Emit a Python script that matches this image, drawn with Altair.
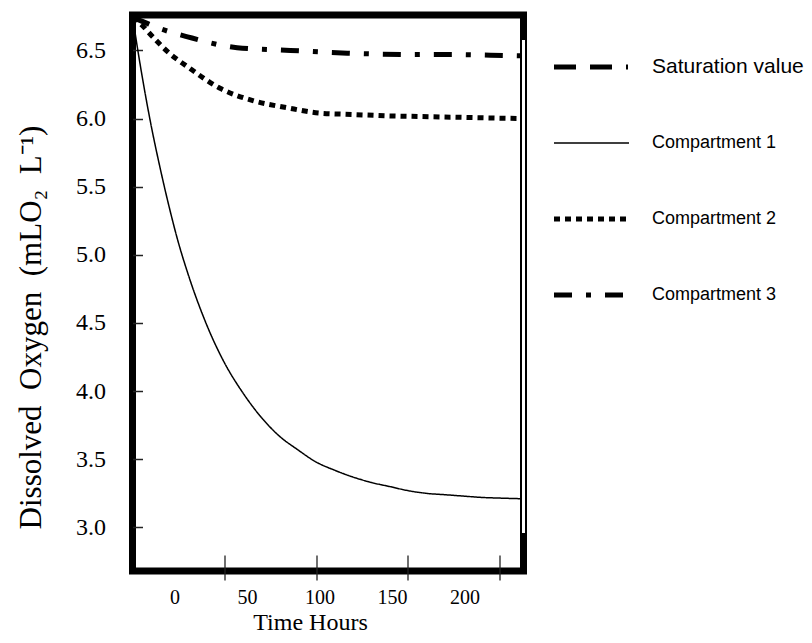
import altair as alt
import pandas as pd

# ---------------- data ----------------
series_names = ["Saturation value", "Compartment 1", "Compartment 2", "Compartment 3"]

sat_hours = [0, 213]
sat_values = [6.76, 6.76]

c1_hours = [0, 5, 10, 15, 20, 25, 30, 40, 50, 60, 70, 80, 90, 100, 110, 120,
            130, 140, 150, 160, 170, 180, 190, 200, 213]
c1_values = [6.75, 6.33, 5.96, 5.64, 5.35, 5.09, 4.87, 4.50, 4.21, 3.99, 3.81,
             3.67, 3.57, 3.48, 3.42, 3.37, 3.33, 3.30, 3.27, 3.25, 3.24, 3.23,
             3.22, 3.215, 3.21]

c2_hours = [0, 4, 11, 20, 30, 48, 66, 84, 102, 120, 139, 157, 175, 193, 213]
c2_values = [6.74, 6.70, 6.60, 6.48, 6.38, 6.22, 6.13, 6.08, 6.04, 6.03, 6.02,
             6.015, 6.01, 6.005, 6.00]

c3_hours = [0, 4, 15, 30, 57, 86, 117, 150, 175, 195, 213]
c3_values = [6.74, 6.72, 6.66, 6.60, 6.52, 6.50, 6.48, 6.47, 6.47, 6.465, 6.46]

y_ticks = [3.0, 3.5, 4.0, 4.5, 5.0, 5.5, 6.0, 6.5]
x_ticks = [50, 100, 150, 200]
x_labels = [0, 50, 100, 150, 200]

rows = []
for name, hs, vs in [(series_names[0], sat_hours, sat_values),
                     (series_names[1], c1_hours, c1_values),
                     (series_names[2], c2_hours, c2_values),
                     (series_names[3], c3_hours, c3_values)]:
    for h, v in zip(hs, vs):
        rows.append({"series": name, "hours": h, "oxygen": v})
df = pd.DataFrame(rows)

# ---------------- styles ----------------
W, H = 391, 556
Y_DOMAIN = [2.68, 6.76]
SERIF = "Liberation Serif"
SANS = "Liberation Sans"

dash_scale = alt.Scale(domain=series_names,
                       range=[[22, 14, 22, 14, 2, 14], [1, 0], [6, 5], [18, 14, 5, 14]])
width_cond = alt.condition(alt.datum.series == "Compartment 1", alt.value(1.5), alt.value(5))

lines = alt.Chart(df).mark_line(color="black", interpolate="monotone", clip=True).encode(
    x=alt.X("hours:Q",
            scale=alt.Scale(domain=[0, 213], nice=False, zero=False),
            axis=alt.Axis(values=x_ticks, labels=False, domain=False, grid=False,
                          tickSize=25, offset=-16, tickColor="#222", tickWidth=1.3,
                          title=None, orient="bottom")),
    y=alt.Y("oxygen:Q",
            scale=alt.Scale(domain=Y_DOMAIN, nice=False, zero=False),
            axis=alt.Axis(values=y_ticks, format=".1f", ticks=False, domain=False, grid=False,
                          labelPadding=27, labelFont=SERIF, labelFontSize=24, labelColor="black",
                          title="Dissolved\u00a0 Oxygen\u00a0 (mLO₂\u00a0 L⁻¹)", titleFont=SERIF,
                          titleFontSize=31, titleFontWeight="normal", titleColor="black",
                          titleX=-101, titleY=312, titleAngle=270, titleAlign="center",
                          titleBaseline="middle", orient="left")),
    strokeDash=alt.StrokeDash("series:N", scale=dash_scale, legend=None),
    strokeWidth=width_cond,
    detail="series:N",
)

xlab = alt.Chart(pd.DataFrame({"t": x_labels})).mark_point(opacity=0).encode(
    x=alt.X("t:Q",
            scale=alt.Scale(domain=[-29, 240.6], nice=False, zero=False),
            axis=alt.Axis(values=x_labels, format="d", ticks=False, domain=False, grid=False,
                          labelPadding=16, labelFont=SERIF, labelFontSize=20, labelColor="black",
                          title="Time Hours", titleFont=SERIF, titleFontSize=24,
                          titleFontWeight="normal", titleColor="black",
                          titleX=177.5, titleY=58, titleBaseline="alphabetic",
                          orient="bottom")),
    y=alt.value(0),
)

ytick = alt.Chart(pd.DataFrame({"v": y_ticks})).mark_point(opacity=0).encode(
    y=alt.Y("v:Q",
            scale=alt.Scale(domain=Y_DOMAIN, nice=False, zero=False),
            axis=alt.Axis(values=y_ticks, labels=False, domain=False, grid=False,
                          tickSize=10, offset=-10, tickColor="#222", tickWidth=1.5,
                          title=None, orient="left")),
    x=alt.value(0),
)

leg_df = pd.DataFrame({"series": series_names})
leg_y = alt.Y("series:N",
              scale=alt.Scale(domain=series_names, range=[52, 280], type="point", padding=0),
              axis=None)
leg_lines = alt.Chart(leg_df).mark_rule(color="black").encode(
    y=leg_y, x=alt.value(421.5), x2=alt.value(496.5),
    strokeDash=alt.StrokeDash("series:N", scale=dash_scale, legend=None),
    strokeWidth=width_cond,
)
leg_text = alt.Chart(leg_df).mark_text(align="left", baseline="middle", font=SANS,
                                       color="black").encode(
    y=leg_y, x=alt.value(519.5), text="series:N",
    size=alt.condition(alt.datum.series == "Saturation value", alt.value(21), alt.value(18)),
)

patch = alt.Chart(pd.DataFrame({"k": [0]})).mark_rule(color="white", strokeWidth=3).encode(
    x=alt.value(W), y=alt.value(25), y2=alt.value(518)
)

chart = alt.layer(lines, xlab, ytick, leg_lines, leg_text, patch).resolve_scale(
    x="independent", y="independent"
).properties(
    width=W, height=H,
    autosize=alt.AutoSizeParams(type="none"),
    padding={"left": 124.5, "top": 7, "right": 280.5, "bottom": 64},
    background="white",
).configure_view(stroke="black", strokeWidth=7)

chart.save("out.html", embed_options={"renderer": "svg", "actions": False})
